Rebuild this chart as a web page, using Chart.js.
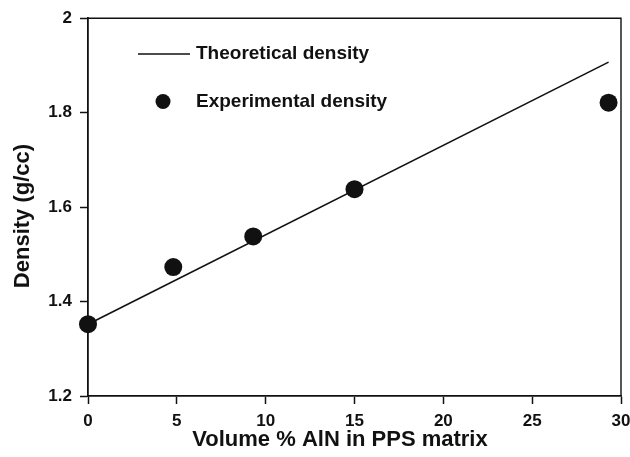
<!DOCTYPE html>
<html>
<head>
<meta charset="utf-8">
<script src="https://cdn.jsdelivr.net/npm/chart.js@4.4.0/dist/chart.umd.min.js"></script>
<style>
  body { margin: 0; background: #fff; }
  #wrap { width: 630px; height: 457px; }
</style>
</head>
<body>
<div id="wrap"><canvas id="myChart" width="630" height="457"></canvas></div>
<script>
// volume % AlN vs density
var volumePct = [0, 4.8, 9.3, 15, 29.3];
var expDensity = [1.352, 1.473, 1.538, 1.638, 1.821];
var theoryX = [0, 29.3];
var theoryDensity = [1.352, 1.907];

var xTicks = [0, 5, 10, 15, 20, 25, 30];
var yTicks = [1.2, 1.4, 1.6, 1.8, 2];

var FONT = '"Liberation Sans", Arial, sans-serif';
var INK = '#111';

function pts(xs, ys) {
    return xs.map(function (x, i) { return { x: x, y: ys[i] }; });
}

// box, legend and axis titles
var extras = {
    id: 'extras',
    afterDraw: function (chart) {
        var ctx = chart.ctx;
        var a = chart.chartArea;
        ctx.save();
        ctx.strokeStyle = INK;
        ctx.lineWidth = 1.4;
        ctx.beginPath();
        ctx.moveTo(a.left, a.top);
        ctx.lineTo(a.right, a.top);
        ctx.lineTo(a.right, a.bottom);
        ctx.stroke();

        // legend
        ctx.lineWidth = 1.5;
        ctx.beginPath();
        ctx.moveTo(138, 54);
        ctx.lineTo(190, 54);
        ctx.stroke();
        ctx.fillStyle = INK;
        ctx.beginPath();
        ctx.arc(163, 101.5, 7.5, 0, Math.PI * 2);
        ctx.fill();
        ctx.font = 'bold 19px ' + FONT;
        ctx.textBaseline = 'middle';
        ctx.textAlign = 'left';
        ctx.fillText('Theoretical density', 196, 54);
        ctx.fillText('Experimental density', 196, 101.5);

        // axis titles
        ctx.font = 'bold 22px ' + FONT;
        ctx.textAlign = 'center';
        ctx.fillText('Volume % AlN in PPS matrix', 340, 440);
        ctx.translate(23, 216);
        ctx.rotate(-Math.PI / 2);
        ctx.fillText('Density (g/cc)', 0, 0);
        ctx.restore();
    }
};

var ctx = document.getElementById('myChart').getContext('2d');
var myChart = new Chart(ctx, {
    type: 'scatter',
    data: {
        datasets: [{
            label: 'Theoretical density',
            data: pts(theoryX, theoryDensity),
            showLine: true,
            borderColor: INK,
            borderWidth: 1.6,
            pointRadius: 0,
            clip: false
        }, {
            label: 'Experimental density',
            data: pts(volumePct, expDensity),
            backgroundColor: INK,
            borderWidth: 0,
            pointRadius: 9,
            clip: false
        }]
    },
    options: {
        responsive: false,
        animation: false,
        layout: { padding: { left: 0, top: 17, right: 9, bottom: 0 } },
        plugins: {
            legend: { display: false },
            tooltip: { enabled: false }
        },
        scales: {
            x: {
                type: 'linear',
                min: 0,
                max: 30,
                afterBuildTicks: function (s) { s.ticks = xTicks.map(function (v) { return { value: v }; }); },
                afterFit: function (s) { s.height = 61; s.paddingRight = 0; s.paddingLeft = 0; },
                border: { display: true, color: INK, width: 1.8 },
                grid: { drawOnChartArea: false, drawTicks: true, tickLength: 8, color: INK, tickWidth: 1.5 },
                ticks: {
                    color: INK,
                    padding: 7,
                    maxRotation: 0,
                    font: { family: FONT, size: 17, weight: 'bold' }
                }
            },
            y: {
                type: 'linear',
                min: 1.2,
                max: 2,
                afterBuildTicks: function (s) { s.ticks = yTicks.map(function (v) { return { value: v }; }); },
                afterFit: function (s) { s.width = 88; },
                border: { display: true, color: INK, width: 1.8 },
                grid: { drawOnChartArea: false, drawTicks: true, tickLength: 8, color: INK, tickWidth: 1.5 },
                ticks: {
                    color: INK,
                    padding: 8,
                    font: { family: FONT, size: 17, weight: 'bold' },
                    callback: function (v) { return String(Math.round(v * 10) / 10); }
                }
            }
        }
    },
    plugins: [extras]
});
</script>
</body>
</html>
